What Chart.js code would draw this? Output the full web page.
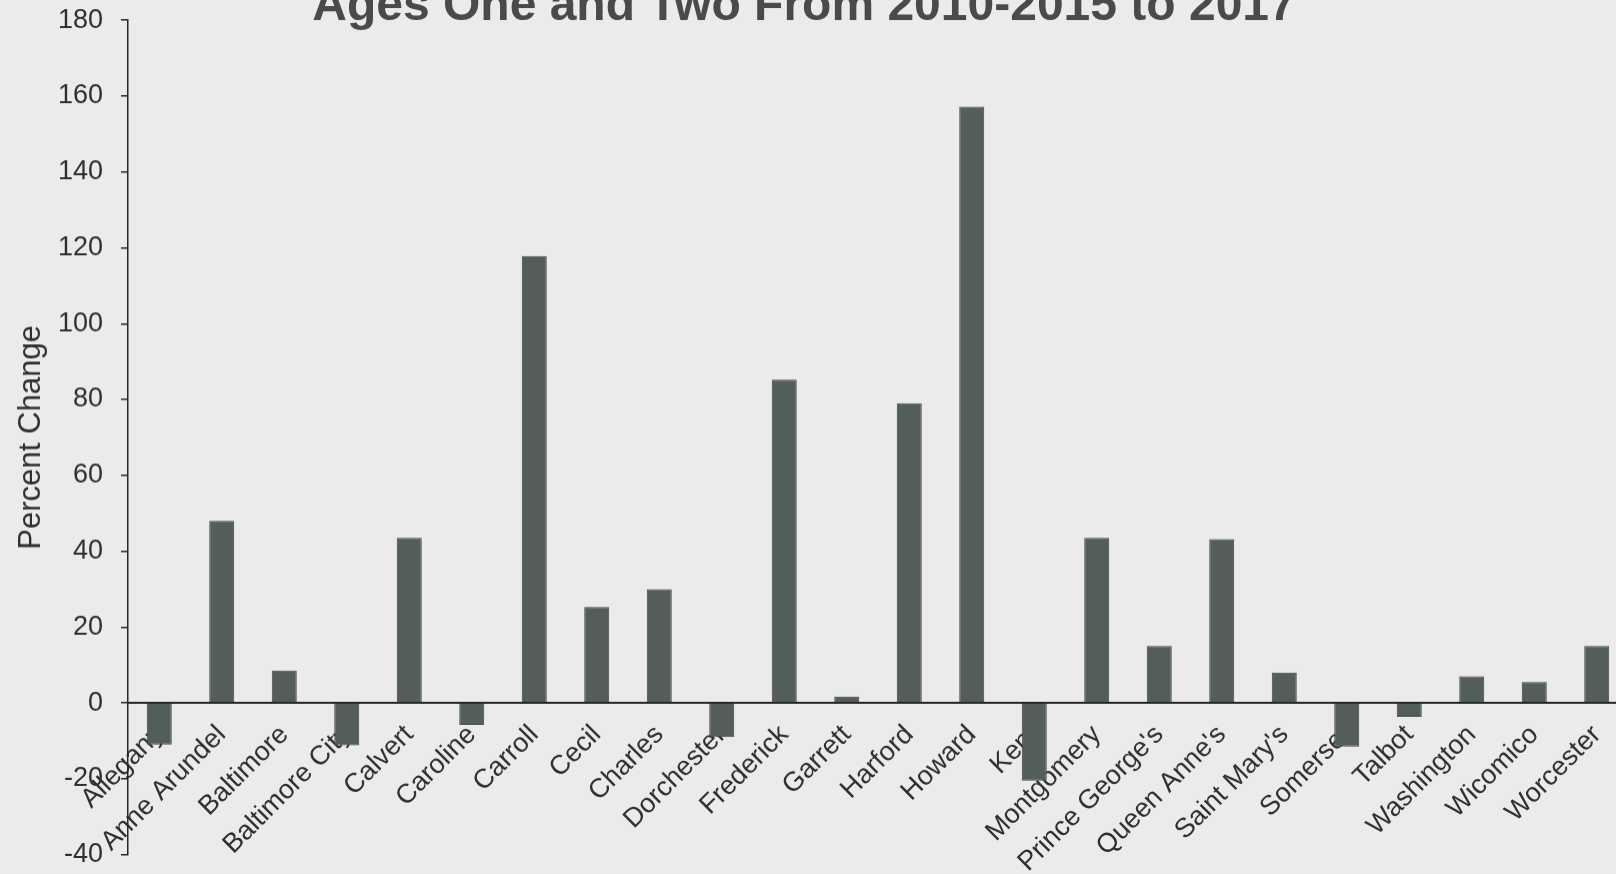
<!DOCTYPE html>
<html>
<head>
<meta charset="utf-8">
<script src="https://cdn.jsdelivr.net/npm/chart.js@4/dist/chart.umd.min.js"></script>
<style>
  html, body { margin: 0; padding: 0; background: #ebebeb; overflow: hidden; width: 1616px; height: 874px; }
  #wrap { position: absolute; left: -20px; top: -13.6px; width: 1680px; height: 901.8px; }
</style>
</head>
<body>
<div id="wrap"><canvas id="chart"></canvas></div>
<script>
// Maryland jurisdictions
const counties = [
  "Allegany", "Anne Arundel", "Baltimore", "Baltimore City", "Calvert", "Caroline",
  "Carroll", "Cecil", "Charles", "Dorchester", "Frederick", "Garrett",
  "Harford", "Howard", "Kent", "Montgomery", "Prince George's", "Queen Anne's",
  "Saint Mary's", "Somerset", "Talbot", "Washington", "Wicomico", "Worcester"
];

// Percent change, ages one and two
const percentChange = [
  -11, 48, 8.5, -11.2, 43.5, -5.8,
  117.8, 25.3, 30, -9, 85.2, 1.7,
  79, 157.2, -20.5, 43.5, 15, 43.2,
  8, -11.5, -3.7, 7, 5.5, 15
];

const yTicks = [-40, -20, 0, 20, 40, 60, 80, 100, 120, 140, 160, 180];

const titleText = "Ages One and Two From 2010-2015 to 2017";
const yTitle = "Percent Change";

const ink = "#2f2f2f";
const fontFamily = "'Liberation Sans', Arial, sans-serif";

new Chart(document.getElementById("chart"), {
  type: "bar",
  data: {
    labels: counties,
    datasets: [{
      data: percentChange,
      backgroundColor: "#535d5a",
      borderColor: "#3b4341",
      borderWidth: 1,
      barPercentage: 0.4,
      categoryPercentage: 1.0
    }]
  },
  options: {
    responsive: true,
    maintainAspectRatio: false,
    animation: false,
    events: [],
    layout: { padding: { top: 0, right: 32, bottom: 26, left: 0 } },
    plugins: {
      legend: { display: false },
      tooltip: { enabled: false },
      title: {
        display: true,
        text: titleText,
        color: "#4a4a4a",
        font: { family: fontFamily, size: 48, weight: "bold", lineHeight: 0.55 },
        padding: { top: 4, bottom: 0 }
      }
    },
    scales: {
      x: {
        // category axis drawn along the zero line
        position: { y: 0 },
        afterFit: (scale) => { scale.height = 0; },
        grid: { display: false },
        border: { display: true, color: "#262626", width: 2 },
        ticks: {
          autoSkip: false,
          maxRotation: 45,
          minRotation: 45,
          color: ink,
          padding: 8,
          font: { family: fontFamily, size: 27 }
        }
      },
      y: {
        min: -40,
        max: 180,
        afterBuildTicks: (scale) => { scale.ticks = yTicks.map(v => ({ value: v })); },
        afterFit: (scale) => { scale.width = 148; },
        grid: {
          display: true,
          drawOnChartArea: false,
          drawTicks: true,
          tickLength: 7,
          color: "#262626",
          lineWidth: 1.5
        },
        border: { display: true, color: "#262626", width: 1.5 },
        ticks: {
          color: ink,
          padding: 18,
          font: { family: fontFamily, size: 27 }
        },
        title: {
          display: true,
          text: yTitle,
          color: ink,
          padding: { top: 33, bottom: 0 },
          font: { family: fontFamily, size: 31 }
        }
      }
    }
  }
});
</script>
</body>
</html>
